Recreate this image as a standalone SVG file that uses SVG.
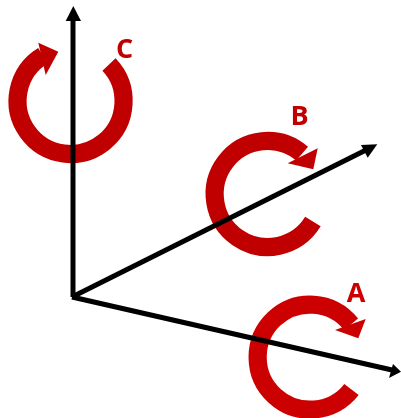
<svg xmlns="http://www.w3.org/2000/svg" width="401" height="418" viewBox="0 0 401 418">
<defs><filter id="soft" x="-5%" y="-5%" width="110%" height="110%"><feGaussianBlur stdDeviation="0.45"/></filter></defs>
<style>
.ring{fill:none;stroke-width:18.2}
.c1{stroke:#c00000}.h1{fill:#c00000}
.c2{stroke:#cc0000}.h2{fill:#cc0000}
.lbl{font-family:"Open Sans","Liberation Sans",sans-serif;font-weight:700;font-size:27px;text-anchor:middle}
.axis{fill:none;stroke:#000;stroke-width:5}
.tip{fill:#000}
</style>
<rect width="401" height="418" fill="#fff"/>
<g filter="url(#soft)">
<g id="rotation-C">
<path class="ring c1" d="M109 64.500A53 53 0 1 1 42.900 55.800"/>
<polygon class="h1" points="58.300,51.700 38.300,42.700 45.700,75"/>
<text class="lbl" x="124.500" y="57.500" fill="#c00000">C</text>
</g>
<g id="rotation-B">
<path class="ring c1" d="M312.900 221.600A53 53 0 1 1 302.100 153.700"/>
<polygon class="h1" points="313.300,169.300 317.700,148.300 287.700,163.300"/>
<text class="lbl" x="299.500" y="124.500" fill="#c00000">B</text>
</g>
<g id="rotation-A">
<path class="ring c2" d="M351.500 389.500A52.500 52.500 0 1 1 351 324.200"/>
<polygon class="h2" points="358.300,338.300 365.700,319 335,330"/>
<text class="lbl" x="356" y="301.500" fill="#cc0000">A</text>
</g>
<g id="connectors">
<path class="axis" d="M73 297V18"/>
<polygon class="tip" points="73.300,6 65.700,21 81,21"/>
<path class="axis" d="M72 297L368 149"/>
<polygon class="tip" points="377.300,144.300 361,145 367.700,157.700"/>
<path class="axis" d="M72 297L392 370"/>
<polygon class="tip" points="401,371.700 393,364 389,378"/>
</g>
</g>
</svg>
